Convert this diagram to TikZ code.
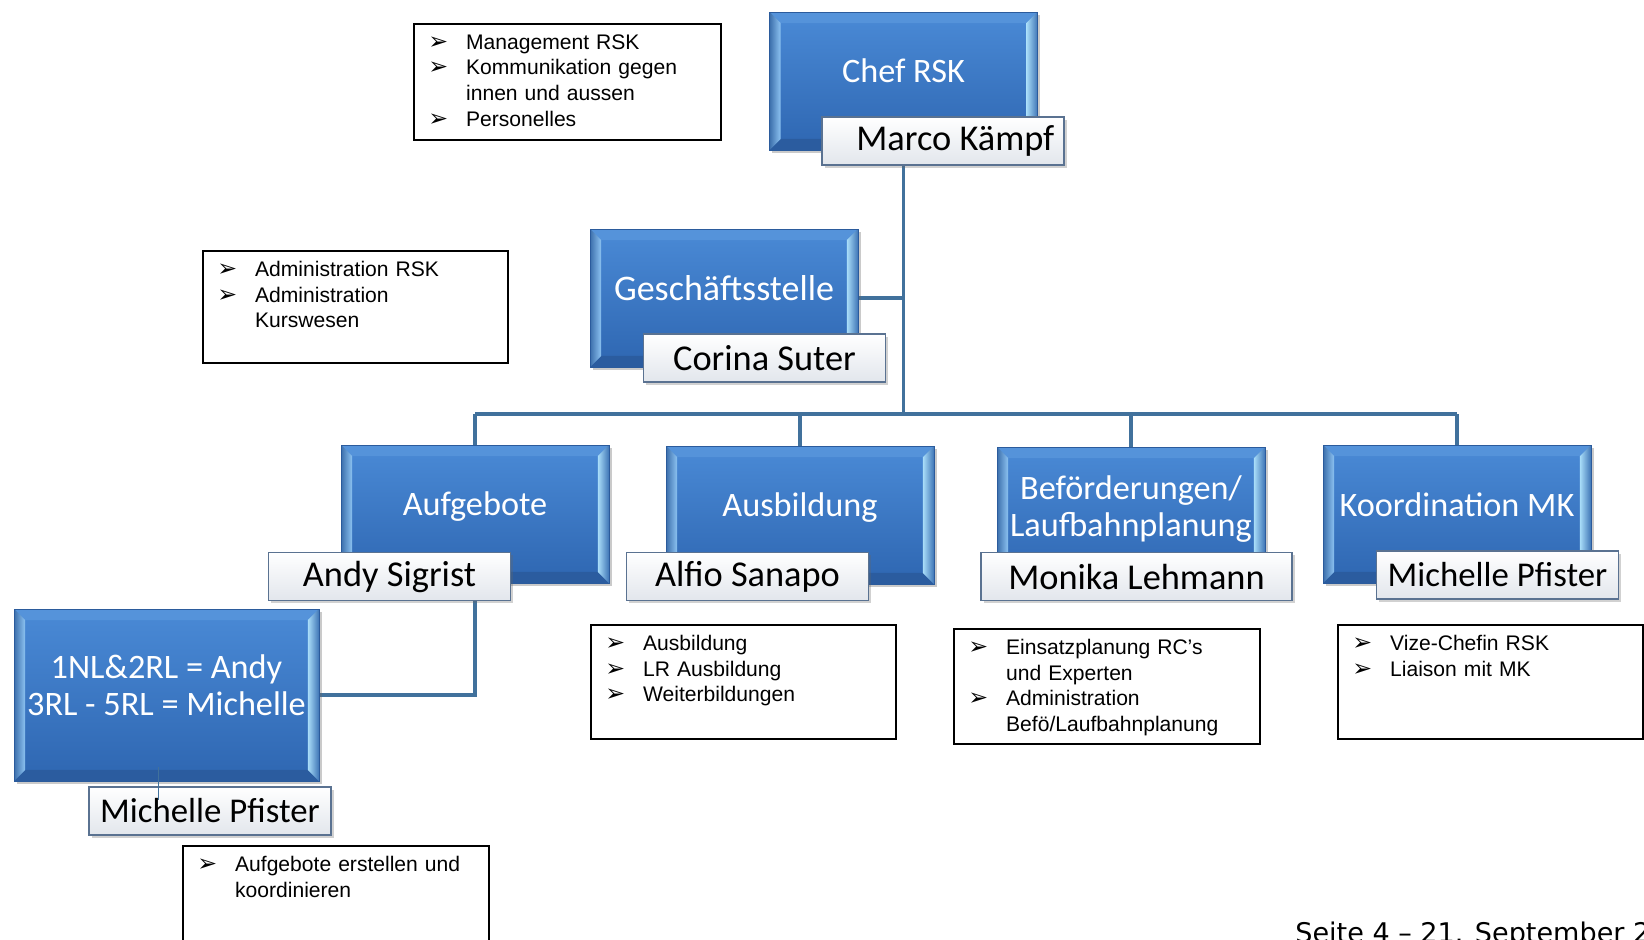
\documentclass[tikz,border=0pt]{standalone}
\usepackage{fontspec}
\setmainfont{Liberation Sans}
\newfontfamily\calibri{Carlito}
\newfontfamily\dejavu{DejaVu Sans}
\usetikzlibrary{positioning}
\usetikzlibrary{calc}
\usetikzlibrary{math}
\usetikzlibrary{shadows}
\usetikzlibrary{backgrounds}

\definecolor{unittop}{HTML}{4A8AD6}
\definecolor{unitbottom}{HTML}{2E66B1}
\definecolor{unitframe}{HTML}{2B5B9C}
\definecolor{bevleft}{HTML}{8CC2F1}
\definecolor{bevright}{HTML}{A8DCF8}
\definecolor{bevtop}{HTML}{5593DA}
\definecolor{bevbottom}{HTML}{2B5C9F}
\definecolor{namegrey}{HTML}{E2E6EC}
\definecolor{nameframe}{HTML}{5A7291}
\definecolor{linkblue}{HTML}{41719C}

\newcommand\notearrow{{\dejavu\bfseries\fontsize{13.5}{12}\selectfont ➢}}
\newcommand\notepoint[1]{\hangindent=21.5pt\hangafter=1\noindent\makebox[21.5pt][l]{\notearrow}#1\par}

\tikzset{
  bevel/.style={path picture={
      \fill[bevtop] (path picture bounding box.north west) -- (path picture bounding box.north east)
        -- ([shift={(-\bev,\bev)}]path picture bounding box.north east) -- ([shift={(\bev,\bev)}]path picture bounding box.north west) -- cycle;
      \fill[bevbottom] (path picture bounding box.south west) -- (path picture bounding box.south east)
        -- ([shift={(-\bev,-\bev)}]path picture bounding box.south east) -- ([shift={(\bev,-\bev)}]path picture bounding box.south west) -- cycle;
      \shade[left color=unittop!80!black, right color=bevleft] (path picture bounding box.north west) -- (path picture bounding box.south west)
        -- ([shift={(\bev,-\bev)}]path picture bounding box.south west) -- ([shift={(\bev,\bev)}]path picture bounding box.north west) -- cycle;
      \shade[left color=bevright, right color=unittop!85!black] (path picture bounding box.north east) -- (path picture bounding box.south east)
        -- ([shift={(-\bev,-\bev)}]path picture bounding box.south east) -- ([shift={(-\bev,\bev)}]path picture bounding box.north east) -- cycle;
  }},
  unit/.style={draw=unitframe, line width=0.5pt, top color=unittop, bottom color=unitbottom,
    minimum width=5.36cm, minimum height=2.76cm, inner sep=0pt, bevel,
    drop shadow={shadow xshift=1.5pt, shadow yshift=-1.5pt, opacity=0.35, fill=black!60}},
  unittext/.style={text=white, font=\calibri\fontsize{19.5}{21}\selectfont, align=center, yshift=4pt},
  namebox/.style={draw=nameframe, line width=0.8pt, top color=white, bottom color=namegrey,
    minimum width=4.84cm, minimum height=0.96cm, inner sep=0pt,
    font=\calibri\fontsize{20.7}{22}\selectfont,
    drop shadow={shadow xshift=1.5pt, shadow yshift=-1.5pt, opacity=0.3, fill=black!60}},
  smallname/.style={font=\calibri\fontsize{19.8}{21}\selectfont},
  notebox/.style={draw=black, line width=1pt, anchor=north west, inner sep=0pt},
  notetext/.style={anchor=north west, inner sep=0pt, text width=165pt, align=left,
    font=\fontsize{12}{14.6}\selectfont},
  link/.style={draw=linkblue, line width=1.8pt}
}

\begin{document}
\begin{tikzpicture}[x=0.02cm, y=-0.02cm]

  \tikzmath{
    \bev = 11; % width of the bevel round the blue boxes
  }

  \useasboundingbox (0,0) rectangle (1644,940);

  % top of the tree
  \node[unit, label={[unittext, yshift=1.7pt]center:Chef RSK}] (chef) at (903.5,81) {};
  \node[namebox] (chef-name) at (943,141) {\hspace{14pt}Marco Kämpf};

  \node[unit, label={[unittext, yshift=1.7pt, font=\calibri\fontsize{20.5}{22}\selectfont]center:Geschäftsstelle}] (gs) at (724,298) {};
  \node[namebox] (gs-name) at (764.5,358) {Corina Suter};

  % the four units
  \node[unit, label={[unittext]center:Aufgebote}] (auf) at (475,514) {};
  \node[namebox] (auf-name) at (389.5,576.5) {Andy Sigrist};

  \node[unit, label={[unittext]center:Ausbildung}] (aus) at (800,515) {};
  \node[namebox] (aus-name) at (747.5,576.5) {Alfio Sanapo};

  \node[unit, label={[unittext]center:Beförderungen/\\Laufbahnplanung}] (bef) at (1131,516) {};
  \node[namebox, minimum width=6.22cm] (bef-name) at (1136.5,576.5) {Monika Lehmann};

  \node[unit, label={[unittext, yshift=1.1pt]center:Koordination MK}] (koo) at (1457,514) {};
  \node[namebox, smallname] (koo-name) at (1497.5,575) {Michelle Pfister};

  % below Aufgebote
  \node[unit, minimum width=6.1cm, minimum height=3.44cm,
    label={[unittext, yshift=1.8pt]center:1NL\&2RL = Andy\\3RL - 5RL = Michelle}] (sub) at (166.5,695) {};
  \node[namebox, smallname] (sub-name) at (210,811) {Michelle Pfister};
  \draw[linkblue, line width=0.4pt] ([shift={(-8,-14)}]sub.south) -- ++(0,33);

  % connectors
  \coordinate (bus) at (903.5,414);
  \begin{scope}[on background layer]
    \draw[link] (chef.south) -- (bus);
    \draw[link] (gs.east) -- (gs.east -| chef.south);
    \draw[link] (auf.north |- bus) -- (koo.north |- bus);
    \foreach \u in {auf,aus,bef,koo}
      \draw[link] (\u.north) -- (\u.north |- bus);
    \draw[link] (auf.south) |- (sub.east);
  \end{scope}

  % notes
  \node[notebox, minimum width=6.14cm, minimum height=2.32cm] (chef-note) at (413,23) {};
  \node[notetext] (chef-text) at ([shift={(15,11)}]chef-note.north west)
    {\notepoint{Management RSK}\notepoint{Kommunikation gegen\newline innen und aussen}\notepoint{Personelles}};

  \node[notebox, minimum width=6.1cm, minimum height=2.24cm] (gs-note) at (202,250) {};
  \node[notetext] (gs-text) at ([shift={(15,11)}]gs-note.north west)
    {\notepoint{Administration RSK}\notepoint{Administration\newline Kurswesen}};

  \node[notebox, minimum width=6.12cm, minimum height=2.4cm] (auf-note) at (182,845) {};
  \node[notetext] (auf-text) at ([shift={(15,11)}]auf-note.north west)
    {\notepoint{Aufgebote erstellen und\newline koordinieren}};

  \node[notebox, minimum width=6.1cm, minimum height=2.28cm] (aus-note) at (590,624) {};
  \node[notetext] (aus-text) at ([shift={(15,11)}]aus-note.north west)
    {\notepoint{Ausbildung}\notepoint{LR Ausbildung}\notepoint{Weiterbildungen}};

  \node[notebox, minimum width=6.12cm, minimum height=2.3cm] (bef-note) at (953,628) {};
  \node[notetext] (bef-text) at ([shift={(15,11)}]bef-note.north west)
    {\notepoint{Einsatzplanung RC’s\newline und Experten}\notepoint{Administration\newline Befö/Laufbahnplanung}};

  \node[notebox, minimum width=6.1cm, minimum height=2.28cm] (koo-note) at (1337,624) {};
  \node[notetext] (koo-text) at ([shift={(15,11)}]koo-note.north west)
    {\notepoint{Vize-Chefin RSK}\notepoint{Liaison mit MK}};

  % page footer
  \node[anchor=base west, inner sep=0pt, font=\dejavu\fontsize{15.4}{17}\selectfont] (footer) at (1295,942)
    {Seite 4 – 21. September 2};

\end{tikzpicture}
\end{document}
